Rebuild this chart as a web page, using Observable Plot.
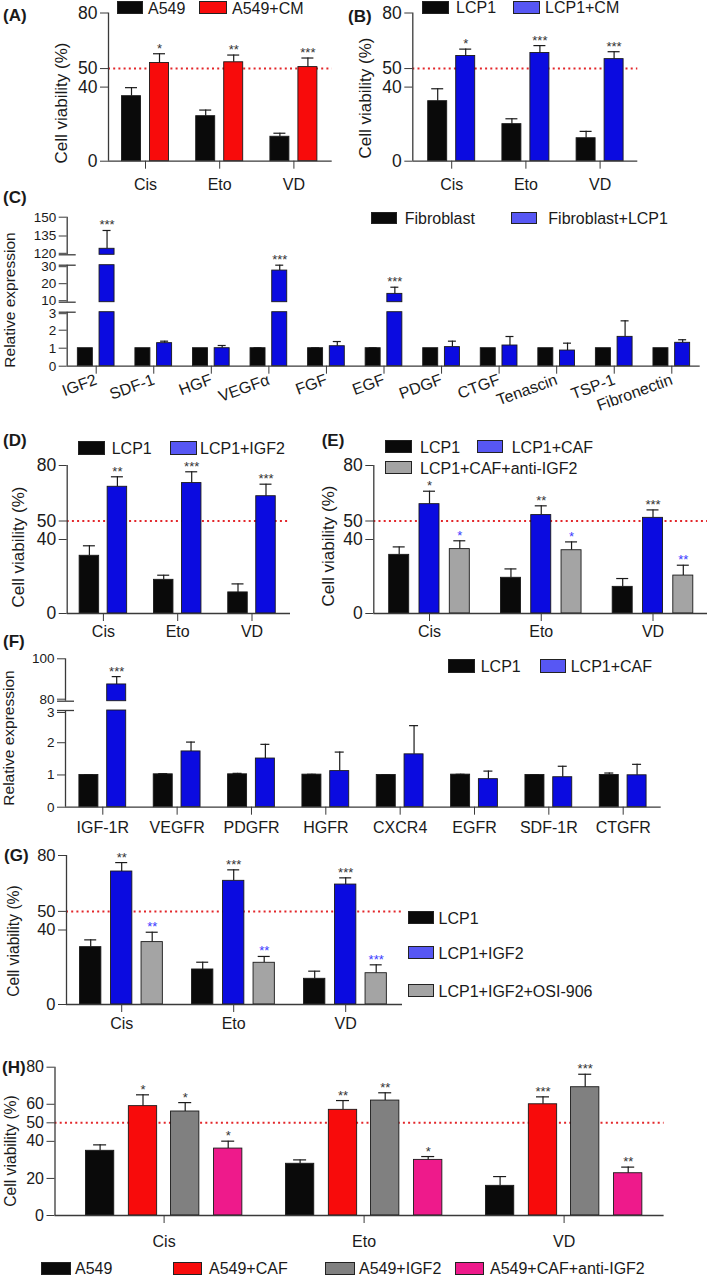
<!DOCTYPE html>
<html><head><meta charset="utf-8">
<script src="https://cdn.jsdelivr.net/npm/d3@7"></script>
<script src="https://cdn.jsdelivr.net/npm/@observablehq/plot@0.6"></script>
<style>
body{margin:0;background:#fff;}
#fig{position:relative;width:709px;height:1277px;overflow:hidden;font-family:"Liberation Sans",Arial,sans-serif;color:#1a1a1a;background:#fff;}
.t{position:absolute;white-space:nowrap;line-height:1;transform:translateY(-50%);}
.rot{position:absolute;white-space:nowrap;line-height:1;transform:translate(-50%,-50%) rotate(-90deg);}
.sw{position:absolute;box-sizing:border-box;}
.pl{position:absolute;}
</style></head><body><div id="fig"></div>
<script>
// ================= DATA =================
const drugs = ["Cis", "Eto", "VD"];
// (A)
const aA549 = [35.1, 24.3, 13.2], aA549Sd = [4.6, 3.3, 1.9];
const aA549CM = [53.0, 53.4, 50.8], aA549CMSd = [5.0, 3.9, 4.9];
const aStars = ["*", "**", "***"];
// (B)
const bLCP1 = [32.4, 20.0, 12.4], bLCP1Sd = [6.7, 2.9, 3.7];
const bLCP1CM = [56.8, 58.4, 55.1], bLCP1CMSd = [3.7, 4.0, 4.0];
const bStars = ["*", "***", "***"];
// (C)
const cFactors = ["IGF2", "SDF-1", "HGF", "VEGFα", "FGF", "EGF", "PDGF", "CTGF", "Tenascin", "TSP-1", "Fibronectin"];
const cFibro = [1, 1, 1, 1, 1, 1, 1, 1, 1, 1, 1];
const cFibroSd = [0, 0, 0, 0.02, 0.02, 0.02, 0, 0, 0, 0, 0];
const cFibroLCP1 = [124.8, 1.28, 1.0, 27.1, 1.11, 14.5, 1.06, 1.15, 0.87, 1.63, 1.3];
const cFibroLCP1Sd = [14.6, 0.11, 0.15, 3.1, 0.26, 3.6, 0.33, 0.5, 0.41, 0.89, 0.17];
const cStars = ["***", "", "", "***", "", "***", "", "", "", "", ""];
// (D)
const dLCP1 = [31.2, 18.2, 11.4], dLCP1Sd = [5.4, 2.5, 4.6];
const dLCP1IGF2 = [68.5, 70.5, 63.4], dLCP1IGF2Sd = [5.4, 6.1, 6.5];
const dStars = ["**", "***", "***"];
// (E)
const eLCP1 = [31.7, 19.3, 14.4], eLCP1Sd = [4.3, 4.8, 4.5];
const eLCP1CAF = [59.1, 53.2, 51.7], eLCP1CAFSd = [7.0, 5.0, 4.3];
const eAnti = [34.8, 34.2, 20.5], eAntiSd = [4.5, 4.5, 5.6];
const eStarsCAF = ["*", "**", "***"], eStarsAnti = ["*", "*", "**"];
// (F)
const fReceptors = ["IGF-1R", "VEGFR", "PDGFR", "HGFR", "CXCR4", "EGFR", "SDF-1R", "CTGFR"];
const fLCP1 = [1.0, 1.02, 1.02, 1.01, 1.0, 1.01, 1.0, 1.0];
const fLCP1Sd = [0.01, 0.02, 0.03, 0.01, 0.01, 0.01, 0.01, 0.06];
const fLCP1CAF = [87.9, 1.73, 1.51, 1.12, 1.64, 0.87, 0.93, 0.99];
const fLCP1CAFSd = [3.7, 0.29, 0.44, 0.59, 0.89, 0.25, 0.34, 0.34];
const fStars = ["***", "", "", "", "", "", "", ""];
// (G)
const gLCP1 = [30.8, 18.8, 13.8], gLCP1Sd = [3.9, 3.9, 4.1];
const gIGF2 = [71.4, 66.4, 64.4], gIGF2Sd = [4.8, 5.9, 3.6];
const gOSI = [33.5, 22.4, 16.8], gOSISd = [5.3, 3.4, 4.5];
const gStarsIGF2 = ["**", "***", "***"], gStarsOSI = ["**", "**", "***"];
// (H)
const hA549 = [34.9, 27.9, 16.0], hA549Sd = [3.2, 2.1, 5.0];
const hCAF = [59.0, 57.0, 60.0], hCAFSd = [6.1, 5.0, 4.0];
const hIGF2 = [56.1, 62.0, 69.2], hIGF2Sd = [4.8, 4.2, 7.0];
const hAnti = [36.1, 30.0, 22.8], hAntiSd = [4.0, 1.8, 3.3];
const hStarsCAF = ["*", "**", "***"], hStarsIGF2 = ["*", "**", "***"], hStarsAnti = ["*", "*", "**"];

const viabTicks = [0, 40, 50, 80];
const viabTicksH = [0, 20, 40, 50, 60, 80];
const cTicks = [0, 1, 2, 3, 10, 20, 30, 120, 135, 150];
const fTicks = [0, 1, 2, 3, 80, 100];

// ================= STYLE =================
const BLACK = "#0a0a0a", BLUE = "#0b0be0", BLUE_L = "#5757f4", RED = "#f80b0b",
      GRAY = "#a4a4a4", GRAY_H = "#808080", PINK = "#ee1a8b", STAR_BLUE = "#3b3bff";
const FONT = '"Liberation Sans", Arial, Helvetica, sans-serif';
const fig = document.getElementById("fig");

function panel(cfg) {
  const {box, xr, yDomain, yRange, cats, series, offsets, barW, capW, yTicks, breaks, segs, ref, xLab, yFont,
         tickUp = [], tickDown = [], nudge = 0} = cfg;
  const {left, top, width, height} = box;
  const step = xr.step;
  const xd0 = (xr.x0 - xr.c0) / step, xd1 = (xr.x1 - xr.c0) / step;
  const yR = yRange.map(v => v - top);
  const yBottom = yR[0], yTop = yR[yR.length - 1];
  const hw = barW / 2 / step, ch = capW / 2 / step;
  const pieces = segs || [[yDomain[0], yDomain[yDomain.length - 1]]];
  const marks = [];
  if (ref != null) marks.push(Plot.ruleY([ref], {stroke: "#e3262a", strokeWidth: 2, strokeDasharray: "2,3.2"}));
  series.forEach((s, k) => {
    const bars = [], errs = [], stars = [];
    s.values.forEach((v, i) => {
      const xc = i + offsets[k] / step;
      const e = v + s.sd[i];
      pieces.forEach(([a, b]) => { if (v > a) bars.push({x1: xc - hw, x2: xc + hw, y1: a, y2: Math.min(v, b)}); });
      if (s.sd[i] > 0) errs.push({xc, x1: xc - ch, x2: xc + ch, v, e});
      if (s.stars && s.stars[i]) stars.push({xc, e, t: s.stars[i]});
    });
    marks.push(Plot.ruleX(errs, {x: "xc", y1: "v", y2: "e", stroke: "#1a1a1a", strokeWidth: 1.2}));
    marks.push(Plot.ruleY(errs, {y: "e", x1: "x1", x2: "x2", stroke: "#1a1a1a", strokeWidth: 1.2}));
    marks.push(Plot.rect(bars, {x1: "x1", x2: "x2", y1: "y1", y2: "y2", fill: s.fill, stroke: "#1a1a1a", strokeWidth: 0.9}));
    if (stars.length) marks.push(Plot.text(stars, {x: "xc", y: "e", text: "t", fill: s.starColor || "#333", fontSize: 13, lineAnchor: "bottom", dy: -1}));
  });
  // axes
  marks.push(Plot.ruleY([yDomain[0]], {stroke: "#3a3a3a", strokeWidth: 1.3}));
  marks.push(Plot.ruleX(pieces, {x: () => xd0, y1: d => d[0], y2: d => d[1], stroke: "#3a3a3a", strokeWidth: 1.3}));
  if (breaks) marks.push(Plot.ruleY(breaks, {y: d => d, x1: () => xd0 - 8 / step, x2: () => xd0 + 9 / step, stroke: "#3a3a3a", strokeWidth: 1.3}));
  const yAx = {anchor: "left", tickSize: 8, tickPadding: 3, label: null, fontSize: yFont, tickFormat: d => String(d), stroke: "#3a3a3a"};
  const mid = yTicks.filter(t => !tickUp.includes(t) && !tickDown.includes(t));
  marks.push(Plot.axisY(mid, yAx));
  if (tickUp.length) marks.push(Plot.axisY(tickUp, {...yAx, dy: -nudge}));
  if (tickDown.length) marks.push(Plot.axisY(tickDown, {...yAx, dy: nudge}));
  marks.push(Plot.axisX(d3.range(cats.length), {anchor: "bottom", tickSize: 8, tickPadding: xLab.pad, label: null,
    tickFormat: i => cats[i], fontSize: xLab.font, tickRotate: xLab.rotate || 0, stroke: "#3a3a3a"}));
  const svg = Plot.plot({
    width, height,
    marginLeft: xr.x0 - left, marginRight: left + width - xr.x1,
    marginTop: yTop, marginBottom: height - yBottom,
    x: {type: "linear", domain: [xd0, xd1]},
    y: {type: "linear", domain: yDomain, range: yR},
    style: {background: "transparent", overflow: "visible", fontFamily: FONT, fontSize: yFont + "px", color: "#1a1a1a"},
    marks
  });
  const wrap = document.createElement("div");
  wrap.className = "pl";
  wrap.style.left = left + "px"; wrap.style.top = top + "px";
  wrap.appendChild(svg);
  fig.appendChild(wrap);
}

function txt(str, x, cy, size, bold) {
  const d = document.createElement("div");
  d.className = "t"; d.textContent = str;
  d.style.left = x + "px"; d.style.top = cy + "px"; d.style.fontSize = size + "px";
  if (bold) d.style.fontWeight = "bold";
  fig.appendChild(d);
}
function rot(str, cx, cy, size) {
  const d = document.createElement("div");
  d.className = "rot"; d.textContent = str;
  d.style.left = cx + "px"; d.style.top = cy + "px"; d.style.fontSize = size + "px";
  fig.appendChild(d);
}
function sw(x1, y1, x2, y2, color) {
  const d = document.createElement("div");
  d.className = "sw";
  d.style.left = x1 + "px"; d.style.top = y1 + "px";
  d.style.width = (x2 - x1) + "px"; d.style.height = (y2 - y1) + "px";
  d.style.background = color; d.style.border = "1.3px solid #222";
  fig.appendChild(d);
}
function legendItem(x1, y1, x2, y2, color, tx, label) {
  sw(x1, y1, x2, y2, color);
  txt(label, tx, (y1 + y2) / 2 + 1, 16);
}

// ================= PANELS =================
// (A)
panel({box: {left: 0, top: 0, width: 345, height: 200},
  xr: {x0: 108, x1: 331.7, c0: 145, step: 74.2},
  yDomain: [0, 80], yRange: [160.7, 12.5], cats: drugs,
  series: [{values: aA549, sd: aA549Sd, fill: BLACK},
           {values: aA549CM, sd: aA549CMSd, fill: RED, stars: aStars}],
  offsets: [-14, 14], barW: 19, capW: 12, yTicks: viabTicks, ref: 50,
  xLab: {pad: 9.5, font: 16}, yFont: 17.5});
// (B)
panel({box: {left: 345, top: 0, width: 364, height: 200},
  xr: {x0: 412.3, x1: 637.3, c0: 451.2, step: 74.2},
  yDomain: [0, 80], yRange: [160.7, 12.5], cats: drugs,
  series: [{values: bLCP1, sd: bLCP1Sd, fill: BLACK},
           {values: bLCP1CM, sd: bLCP1CMSd, fill: BLUE, stars: bStars}],
  offsets: [-14, 14], barW: 19, capW: 12, yTicks: viabTicks, ref: 50,
  xLab: {pad: 9.5, font: 16}, yFont: 17.5});
// (C)
panel({box: {left: 0, top: 195, width: 709, height: 235},
  xr: {x0: 66.7, x1: 699.7, c0: 95.7, step: 57.56},
  yDomain: [0, 3, 10, 30, 120, 150], yRange: [365.7, 311.7, 301.7, 264.7, 254.3, 216.7],
  segs: [[0, 3], [10, 30], [120, 150]], breaks: [3, 10, 30, 120], cats: cFactors,
  series: [{values: cFibro, sd: cFibroSd, fill: BLACK},
           {values: cFibroLCP1, sd: cFibroLCP1Sd, fill: BLUE, stars: cStars}],
  offsets: [-10.85, 10.85], barW: 15, capW: 8, yTicks: cTicks,
  tickUp: [10, 120], tickDown: [3, 30], nudge: 1.5,
  xLab: {pad: 5, font: 16, rotate: -20}, yFont: 13.5});
// (D)
panel({box: {left: 0, top: 430, width: 345, height: 215},
  xr: {x0: 66.7, x1: 290, c0: 102.9, step: 74.3},
  yDomain: [0, 80], yRange: [613, 465], cats: drugs,
  series: [{values: dLCP1, sd: dLCP1Sd, fill: BLACK},
           {values: dLCP1IGF2, sd: dLCP1IGF2Sd, fill: BLUE, stars: dStars}],
  offsets: [-14, 14], barW: 19.5, capW: 12, yTicks: viabTicks, ref: 50,
  xLab: {pad: 4, font: 16}, yFont: 17.5});
// (E)
panel({box: {left: 345, top: 430, width: 364, height: 215},
  xr: {x0: 373.3, x1: 707, c0: 429, step: 111.75},
  yDomain: [0, 80], yRange: [613, 465], cats: drugs,
  series: [{values: eLCP1, sd: eLCP1Sd, fill: BLACK},
           {values: eLCP1CAF, sd: eLCP1CAFSd, fill: BLUE, stars: eStarsCAF},
           {values: eAnti, sd: eAntiSd, fill: GRAY, stars: eStarsAnti, starColor: STAR_BLUE}],
  offsets: [-30.3, 0, 30.3], barW: 20, capW: 12, yTicks: viabTicks, ref: 50,
  xLab: {pad: 4, font: 16}, yFont: 17.5});
// (F)
panel({box: {left: 0, top: 645, width: 709, height: 195},
  xr: {x0: 65, x1: 660.7, c0: 102.3, step: 74.34},
  yDomain: [0, 3, 80, 100], yRange: [806.7, 710, 700.7, 658.3],
  segs: [[0, 3], [80, 100]], breaks: [3, 80], cats: fReceptors,
  series: [{values: fLCP1, sd: fLCP1Sd, fill: BLACK},
           {values: fLCP1CAF, sd: fLCP1CAFSd, fill: BLUE, stars: fStars}],
  offsets: [-13.9, 13.9], barW: 19, capW: 9, yTicks: fTicks,
  tickUp: [80], tickDown: [3], nudge: 2,
  xLab: {pad: 6, font: 16}, yFont: 13.5});
// (G)
panel({box: {left: 0, top: 840, width: 709, height: 190},
  xr: {x0: 66, x1: 402, c0: 121.2, step: 112},
  yDomain: [0, 80], yRange: [1004, 855], cats: drugs,
  series: [{values: gLCP1, sd: gLCP1Sd, fill: BLACK},
           {values: gIGF2, sd: gIGF2Sd, fill: BLUE, stars: gStarsIGF2},
           {values: gOSI, sd: gOSISd, fill: GRAY, stars: gStarsOSI, starColor: STAR_BLUE}],
  offsets: [-31, 0, 30.5], barW: 21.3, capW: 12, yTicks: viabTicks, ref: 50,
  xLab: {pad: 5.5, font: 16}, yFont: 16.5});
// (H)
panel({box: {left: 0, top: 1035, width: 709, height: 215},
  xr: {x0: 54.5, x1: 663.6, c0: 163.6, step: 200},
  yDomain: [0, 80], yRange: [1215, 1066.7], cats: drugs,
  series: [{values: hA549, sd: hA549Sd, fill: BLACK},
           {values: hCAF, sd: hCAFSd, fill: RED, stars: hStarsCAF},
           {values: hIGF2, sd: hIGF2Sd, fill: GRAY_H, stars: hStarsIGF2},
           {values: hAnti, sd: hAntiSd, fill: PINK, stars: hStarsAnti}],
  offsets: [-64, -21.1, 21.1, 64.1], barW: 28.3, capW: 13, yTicks: viabTicksH, ref: 50,
  xLab: {pad: 12, font: 16}, yFont: 16});

// ================= TEXT: panel letters, axis titles, legends =================
txt("(A)", 3, 15, 17, true);
txt("(B)", 348, 16, 17, true);
txt("(C)", 3, 197, 17, true);
txt("(D)", 3, 440, 17, true);
txt("(E)", 321.7, 440, 17, true);
txt("(F)", 3, 641, 17, true);
txt("(G)", 4, 855, 17, true);
txt("(H)", 2, 1067, 17, true);

rot("Cell viability (%)", 61, 103, 17);
rot("Cell viability (%)", 365, 97.5, 17);
rot("Relative expression", 10, 300, 15.5);
rot("Cell viability (%)", 17.5, 546.5, 17);
rot("Cell viability (%)", 327.5, 546, 17);
rot("Relative expression", 9, 738, 15.5);
rot("Cell viability (%)", 13.6, 941, 15.7);
rot("Cell viability (%)", 11, 1151, 15.7);

legendItem(117, 1, 143, 14, BLACK, 148, "A549");
legendItem(199, 1, 227, 14, RED, 232, "A549+CM");
legendItem(421.7, 0.5, 449, 14, BLACK, 456, "LCP1");
legendItem(513, 0.5, 540, 14, BLUE_L, 545, "LCP1+CM");
legendItem(370.7, 211.7, 397.3, 224.3, BLACK, 404.7, "Fibroblast");
legendItem(511.3, 211.7, 537.3, 224.3, BLUE_L, 548.3, "Fibroblast+LCP1");
legendItem(77.7, 441, 105, 455, BLACK, 111.7, "LCP1");
legendItem(170, 441, 196.7, 455, BLUE_L, 200, "LCP1+IGF2");
legendItem(385, 440, 411.7, 453, BLACK, 420, "LCP1");
legendItem(476.7, 440, 503.3, 453, BLUE_L, 511.7, "LCP1+CAF");
legendItem(385, 461, 411.7, 474, GRAY, 420, "LCP1+CAF+anti-IGF2");
legendItem(448, 659.3, 474.7, 672.7, BLACK, 480.7, "LCP1");
legendItem(539.7, 659.3, 566.3, 672.7, BLUE_L, 570.7, "LCP1+CAF");
legendItem(408, 911, 434, 924.3, BLACK, 438.6, "LCP1");
legendItem(408, 946, 434, 959.3, BLUE_L, 438.6, "LCP1+IGF2");
legendItem(408, 984, 434, 997.3, GRAY, 438.6, "LCP1+IGF2+OSI-906");
legendItem(41, 1261.7, 70.5, 1275, BLACK, 75, "A549");
legendItem(172.7, 1261.7, 202.3, 1275, RED, 209, "A549+CAF");
legendItem(325, 1261.7, 354.5, 1275, GRAY_H, 359, "A549+IGF2");
legendItem(454.5, 1261.7, 484, 1275, PINK, 490, "A549+CAF+anti-IGF2");
</script></body></html>
